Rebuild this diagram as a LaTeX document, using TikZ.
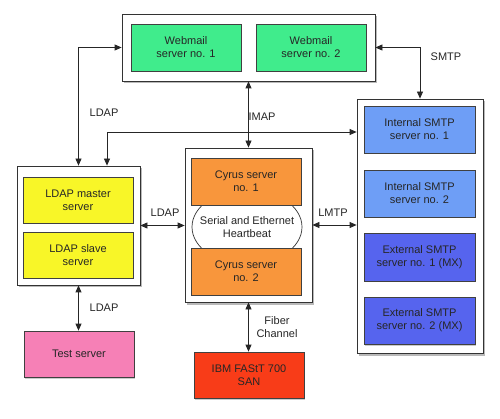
\documentclass[tikz,border=0pt]{standalone}
\usepackage{fontspec}
\setmainfont{Liberation Sans}
\usetikzlibrary{shadows,arrows.meta}
\definecolor{cgreen}{RGB}{64,236,140}
\definecolor{cyellow}{RGB}{248,246,40}
\definecolor{corange}{RGB}{248,150,60}
\definecolor{cltblue}{RGB}{110,158,246}
\definecolor{cblue}{RGB}{86,100,238}
\definecolor{cpink}{RGB}{246,128,182}
\definecolor{cred}{RGB}{248,60,24}
\tikzset{
  every node/.style={font=\fontsize{11}{13}\selectfont, text=black!85},
  container/.style={draw=black!80, line width=0.8pt, fill=white, inner sep=0pt,
    drop shadow={shadow xshift=2pt, shadow yshift=-2.5pt, fill=black!55}},
  srv/.style={draw=black!75, line width=0.7pt, inner sep=0pt, minimum width=110pt, minimum height=47pt,
    align=center, drop shadow={shadow xshift=1.2pt, shadow yshift=-1.5pt, fill=black!40}},
  arr/.style={{Triangle[length=7pt,width=6pt]}-{Triangle[length=7pt,width=6pt]}, line width=0.8pt, draw=black!85},
  lbl/.style={align=center, inner sep=0pt}
}
\begin{document}
\begin{tikzpicture}[x=1pt,y=-1pt]
\useasboundingbox (0,0) rectangle (500,419);
% containers
\node[container, minimum width=253pt, minimum height=67pt] (topc) at (248.5,47.5) {};
\node[container, minimum width=126pt, minimum height=254pt] (rightc) at (420,226) {};
\node[container, minimum width=123pt, minimum height=119pt] (leftc) at (78.5,225.5) {};
\node[container, minimum width=127pt, minimum height=154pt] (centerc) at (248.5,225) {};
% heartbeat ellipse
\draw[draw=black!80, line width=0.7pt, fill=white] (247,227) ellipse [x radius=55, y radius=37.5];
\node[lbl] (hb) at (247,227) {Serial and Ethernet\\Heartbeat};
% servers
\node[srv, fill=cgreen] (web1) at (186,47.5) {Webmail\\server no. 1};
\node[srv, fill=cgreen] (web2) at (311,47.5) {Webmail\\server no. 2};
\node[srv, fill=cltblue, minimum width=111pt] (int1) at (419.5,129.5) {Internal SMTP\\server no. 1};
\node[srv, fill=cltblue, minimum width=111pt] (int2) at (419.5,193.5) {Internal SMTP\\server no. 2};
\node[srv, fill=cblue, minimum width=111pt, minimum height=48pt] (ext1) at (419.5,257) {External SMTP\\server no. 1 (MX)};
\node[srv, fill=cblue, minimum width=111pt] (ext2) at (419.5,320.5) {External SMTP\\server no. 2 (MX)};
\node[srv, fill=cyellow, minimum height=46pt] (master) at (78,200) {LDAP master\\server};
\node[srv, fill=cyellow, minimum height=46pt] (slave) at (78,255) {LDAP slave\\server};
\node[srv, fill=corange] (cyr1) at (246,181.5) {Cyrus server\\no. 1};
\node[srv, fill=corange] (cyr2) at (246,271.5) {Cyrus server\\no. 2};
\node[srv, fill=cpink, minimum height=46pt] (test) at (79,354) {Test server};
\node[srv, fill=cred, minimum height=46pt] (ibm) at (249,375) {IBM FAStT 700\\SAN};
% connectors
\draw[arr] (leftc.north) -- (leftc.north |- topc.west) -- (topc.west);
\draw[arr] (topc.east) -- (rightc.north |- topc.east) -- (rightc.north);
\coordinate (j) at (107,132);
\draw[arr] (j |- leftc.north) -- (j) -- (j -| rightc.west);
\draw[arr] (topc.south) -- (centerc.north);
\draw[arr] (leftc.east) -- (leftc.east -| centerc.west);
\draw[arr] (centerc.east) -- (centerc.east -| rightc.west);
\draw[arr] (leftc.south) -- (leftc.south |- test.north);
\draw[arr] (centerc.south) -- (centerc.south |- ibm.north);
% labels
\node[lbl] (l1) at (104,113) {LDAP};
\node[lbl] (l2) at (446,57) {SMTP};
\node[lbl] (l3) at (262,117) {IMAP};
\node[lbl] (l4) at (165,213) {LDAP};
\node[lbl] (l5) at (333,213) {LMTP};
\node[lbl] (l6) at (104,308) {LDAP};
\node[lbl] (l7) at (277,327) {Fiber\\Channel};
\end{tikzpicture}
\end{document}
